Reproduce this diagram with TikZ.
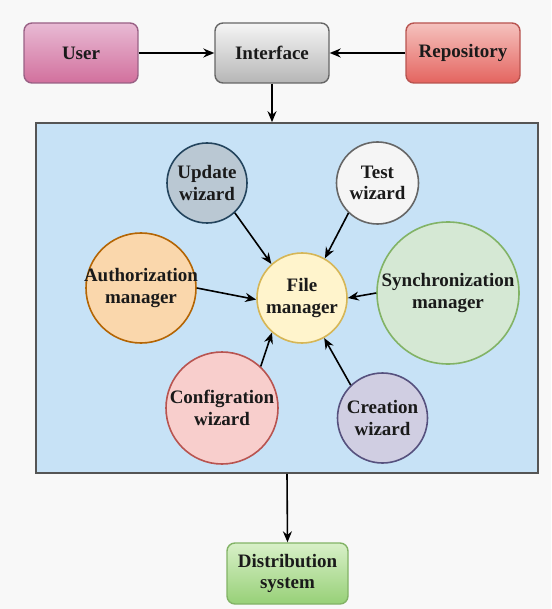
\documentclass[tikz,border=0pt]{standalone}
\usepackage{fontspec}
\setmainfont{Liberation Serif}
\usetikzlibrary{arrows.meta}
\definecolor{bgc}{HTML}{F8F8F8}
\definecolor{panelc}{HTML}{C7E2F6}
\definecolor{txtc}{HTML}{1A1A1A}
\tikzset{
  lbl/.style={font=\bfseries\fontsize{19}{21.5}\selectfont, text=txtc, align=center, inner sep=0pt},
  box/.style={draw, line width=1.4pt, rounded corners=8pt, minimum width=114pt, minimum height=60pt, lbl},
  circ/.style={circle, draw, line width=1.6pt, inner sep=0pt},
  arr/.style={line width=1.6pt, -{Stealth[length=11pt,width=9pt]}, black},
}
\begin{document}
\begin{tikzpicture}[x=1pt,y=-1pt]
\path[fill=bgc] (0,0) rectangle (551,609);
\useasboundingbox (0,0) rectangle (551,609);
% top row
\node[box, draw={rgb,255:red,153;green,97;blue,133}, top color={rgb,255:red,232;green,186;blue,212}, bottom color={rgb,255:red,210;green,112;blue,157}] (user) at (81,53) {User};
\node[box, draw={rgb,255:red,102;green,102;blue,102}, top color={rgb,255:red,245;green,245;blue,245}, bottom color={rgb,255:red,182;green,182;blue,182}] (iface) at (272,53) {Interface};
\node[box, draw={rgb,255:red,184;green,84;blue,80}, top color={rgb,255:red,245;green,194;blue,190}, bottom color={rgb,255:red,228;green,100;blue,95}] (repo) at (463,53) {Repository};
% panel
\node[draw={rgb,255:red,85;green,85;blue,85}, line width=1.6pt, fill=panelc, minimum width=502pt, minimum height=350pt, inner sep=0pt] (panel) at (287,298) {};
% circles
\node[circ, minimum size=80pt, draw={rgb,255:red,35;green,68;blue,93}, fill={rgb,255:red,186;green,200;blue,211}] (upd) at (207,183) {};
\node[lbl] (updt) at (upd.center) {Update\\wizard};
\node[circ, minimum size=82pt, draw={rgb,255:red,102;green,102;blue,102}, fill={rgb,255:red,245;green,245;blue,245}] (tst) at (377.5,183) {};
\node[lbl] (tstt) at (tst.center) {Test\\wizard};
\node[circ, minimum size=110pt, draw={rgb,255:red,180;green,101;blue,4}, fill={rgb,255:red,250;green,215;blue,172}] (auth) at (141,288) {};
\node[lbl] (autht) at (auth.center) {Authorization\\manager};
\node[circ, minimum size=90pt, draw={rgb,255:red,214;green,182;blue,86}, fill={rgb,255:red,255;green,244;blue,204}] (file) at (302,298) {};
\node[lbl] (filet) at (file.center) {File\\manager};
\node[circ, minimum size=142pt, draw={rgb,255:red,130;green,179;blue,102}, fill={rgb,255:red,213;green,232;blue,212}] (sync) at (448,293) {};
\node[lbl] (synct) at (sync.center) {Synchronization\\manager};
\node[circ, minimum size=112pt, draw={rgb,255:red,184;green,84;blue,80}, fill={rgb,255:red,248;green,206;blue,204}] (conf) at (222,408) {};
\node[lbl] (conft) at (conf.center) {Configration\\wizard};
\node[circ, minimum size=90pt, draw={rgb,255:red,86;green,81;blue,126}, fill={rgb,255:red,208;green,206;blue,226}] (cre) at (382.5,418) {};
\node[lbl] (cret) at (cre.center) {Creation\\wizard};
% bottom box
\node[box, minimum width=121pt, minimum height=61pt, draw={rgb,255:red,130;green,179;blue,102}, top color={rgb,255:red,216;green,240;blue,200}, bottom color={rgb,255:red,151;green,208;blue,119}] (dist) at (287.5,573.5) {Distribution\\system};
% connectors
\draw[arr] (user) -- (iface);
\draw[arr] (repo) -- (iface);
\draw[arr] (iface.south) -- (iface.south |- panel.north);
\draw[arr] (panel.south) -- (dist.north);
\draw[arr] (upd.313) -- (file.132);
\draw[arr] (tst.226) -- (file.60);
\draw[arr] (auth.0) -- (file.182);
\draw[arr] (sync.180) -- (file.0);
\draw[arr] (conf.47) -- (file.229);
\draw[arr] (cre.134) -- (file.299);
\end{tikzpicture}
\end{document}
